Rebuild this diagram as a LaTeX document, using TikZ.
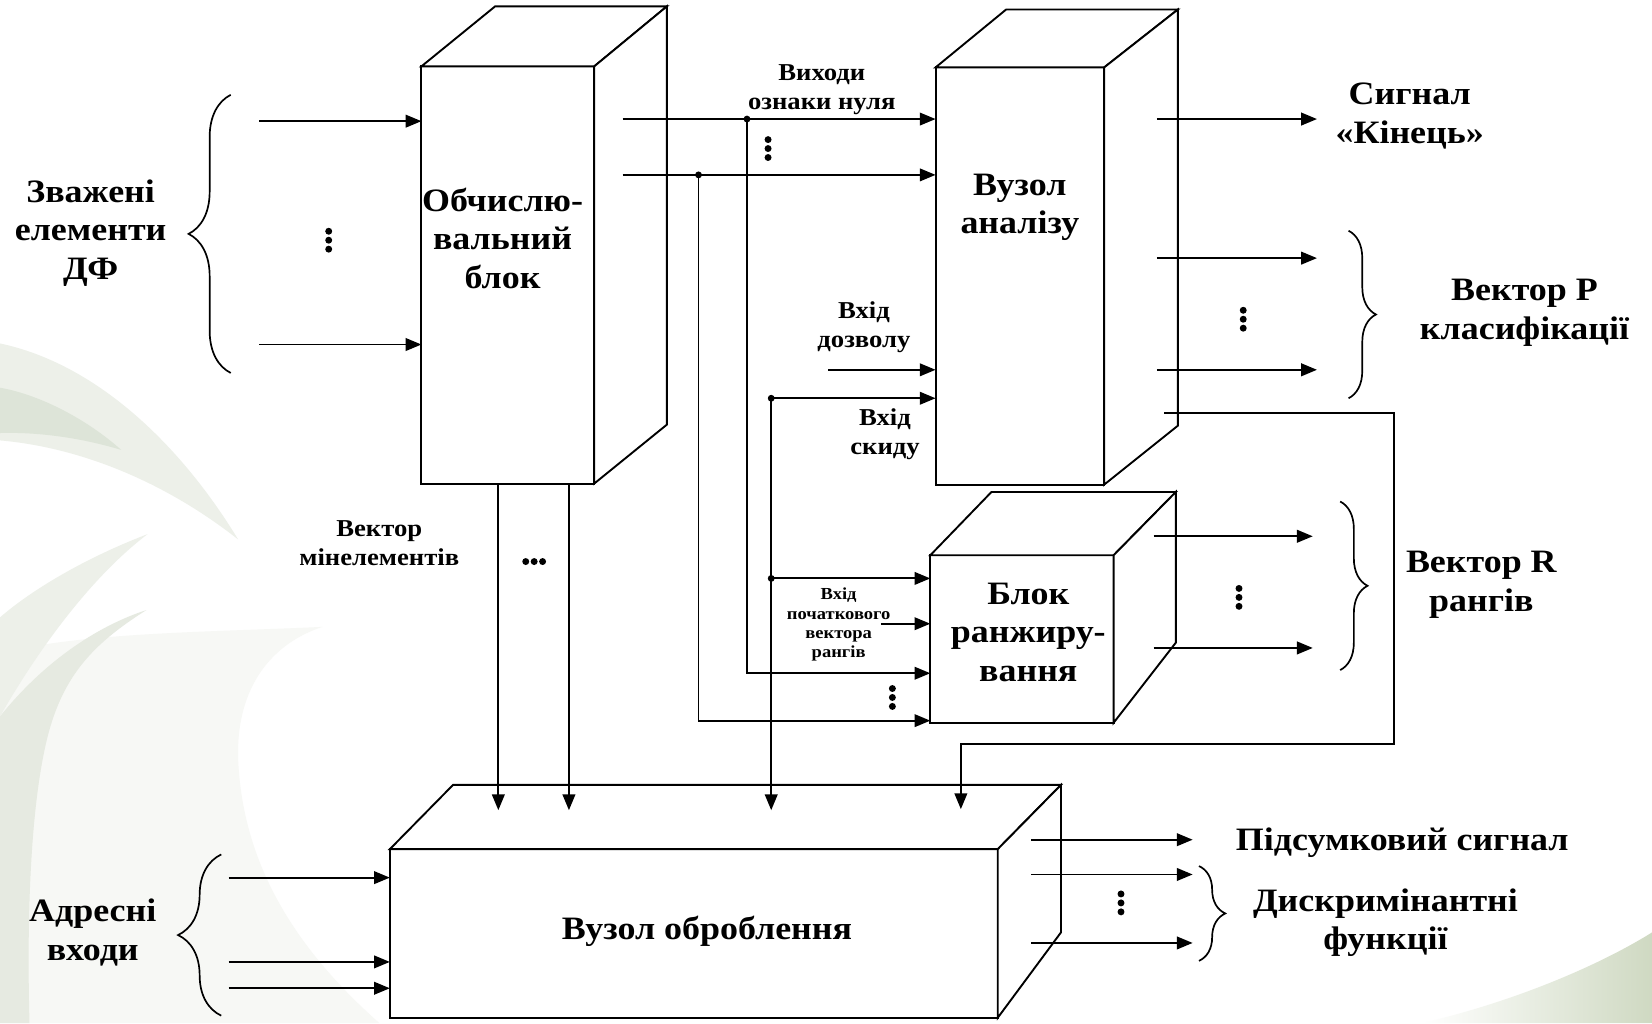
\documentclass[tikz,border=0pt]{standalone}
\usepackage{fontspec}
\setmainfont{Liberation Serif}[FakeStretch=1.1]
\usetikzlibrary{arrows.meta,decorations.pathreplacing}
\definecolor{bgA}{HTML}{EDF0E9}
\definecolor{bgB}{HTML}{DDE4D8}
\definecolor{bgC}{HTML}{F7F8F5}
\definecolor{bgD}{HTML}{E6EAE1}
\definecolor{bgE}{HTML}{CFD9C2}
\tikzset{
 ln/.style={line width=1.8pt},
 arr/.style={line width=1.8pt,-{Triangle[length=15pt,width=12pt]}},
 front/.style={draw,line width=1.8pt,fill=white,inner sep=0pt,outer sep=0pt,anchor=north west},
 face/.style={draw,line width=1.8pt,fill=white,line join=miter},
 bigtxt/.style={font=\fontsize{31}{36.5}\selectfont\bfseries,align=center,inner sep=0pt},
 midtxt/.style={font=\fontsize{23}{27.5}\selectfont\bfseries,align=center,inner sep=0pt},
 smalltxt/.style={font=\fontsize{16}{18.3}\selectfont\bfseries,align=center,inner sep=0pt},
 jdot/.style={fill,circle,inner sep=0pt,minimum size=6.5pt},
 brc/.style={line width=1.6pt,decorate,decoration={brace,amplitude=#1}},
}
\newcommand{\vdts}[2]{\fill (#1,#2-8.5) circle (3.3pt) (#1,#2) circle (3.3pt) (#1,#2+8.5) circle (3.3pt);}
\newcommand{\hdts}[2]{\fill (#1-8,#2) circle (3.3pt) (#1,#2) circle (3.3pt) (#1+8,#2) circle (3.3pt);}
\begin{document}
\begin{tikzpicture}[x=1pt,y=-1pt]
\fill[white] (0,0) rectangle (1568,971);
\useasboundingbox (0,0) rectangle (1568,971);
% background swooshes
\fill[bgC] (306,595) .. controls (200,600) and (80,600) .. (0,620) -- (0,971) -- (360,971) .. controls (280,900) and (230,820) .. (226,720) .. controls (224,650) and (260,610) .. (306,595) -- cycle;
\fill[bgA] (0,326) .. controls (90,345) and (170,420) .. (226,512) .. controls (160,460) and (80,425) .. (0,418) -- cycle;
\fill[bgB] (0,368) .. controls (40,375) and (85,400) .. (115,427) .. controls (75,415) and (35,410) .. (0,411) -- cycle;
\fill[bgA] (140,507) .. controls (80,530) and (30,560) .. (0,586) -- (0,680) .. controls (40,610) and (90,545) .. (140,507) -- cycle;
\fill[bgD] (139,579) .. controls (90,610) and (60,640) .. (45,700) .. controls (30,760) and (25,860) .. (28,971) -- (0,971) -- (0,680) .. controls (40,630) and (90,595) .. (139,579) -- cycle;
\shade[left color=white,right color=bgE] (1350,971) .. controls (1440,950) and (1520,915) .. (1568,885) -- (1568,971) -- cycle;

% ---- compute block
\node[front,minimum width=164pt,minimum height=396pt] (cb) at (400,63) {};
\draw[face] (cb.north west) -- (470,6) -- (633,6) -- (cb.north east) -- cycle;
\draw[face] (cb.north east) -- (633,6) -- (633,403) -- (cb.south east) -- cycle;
\node[bigtxt] (tcb) at (477,226) {Обчислю-\\вальний\\блок};

% ---- analysis block
\node[front,minimum width=160pt,minimum height=396pt] (an) at (888,64) {};
\draw[face] (an.north west) -- (955,9) -- (1118,9) -- (an.north east) -- cycle;
\draw[face] (an.north east) -- (1118,9) -- (1118,404) -- (an.south east) -- cycle;
\node[bigtxt] (tan) at (968,197) {Вузол\\аналізу};

% ---- ranking block
\node[front,minimum width=174pt,minimum height=159pt] (rk) at (883,527) {};
\draw[face] (rk.north west) -- (941,467) -- (1116,467) -- (rk.north east) -- cycle;
\draw[face] (rk.north east) -- (1116,467) -- (1116,610) -- (rk.south east) -- cycle;
\node[bigtxt] (trk) at (976,600) {Блок\\ранжиру-\\вання};

% ---- processing block
\node[front,minimum width=577pt,minimum height=160pt] (pr) at (370,806) {};
\draw[face] (pr.north west) -- (430,745) -- (1007,745) -- (pr.north east) -- cycle;
\draw[face] (pr.north east) -- (1007,745) -- (1007,885) -- (pr.south east) -- cycle;
\node[bigtxt] (tpr) at (671,884) {Вузол оброблення};

% ---- inputs of compute block
\draw[arr] (246,115) -- (246,115 -| cb.west);
\draw[arr] (246,327) -- (246,327 -| cb.west);
\vdts{312}{228}
\draw[brc=40] (219,354) -- (219,90);
\node[bigtxt] (tz) at (86,221) {Зважені\\елементи\\ДФ};

% ---- compute -> analysis
\node[jdot] (j1) at (709,113) {};
\node[jdot] (j2) at (663,166) {};
\draw[arr] (591,113) -- (591,113 -| an.west);
\draw[arr] (591,166) -- (591,166 -| an.west);
\vdts{729}{141}
\node[midtxt] (tvy) at (780,85) {Виходи\\ознаки нуля};
\draw[arr] (j1.center) |- (rk.west |- 0,639);
\draw[arr] (j2.center) |- (rk.west |- 0,684);

% ---- enable / reset
\draw[arr] (786,351) -- (786,351 -| an.west);
\node[midtxt] (tdz) at (820,311) {Вхід\\дозволу};
\node[jdot] (j3) at (732,378) {};
\node[jdot] (j4) at (732,549) {};
\draw[arr] (j3.center) -- (an.west |- j3);
\draw[arr] (j3.center) -- (732,769);
\node[midtxt] (tsk) at (840,412) {Вхід\\скиду};
\draw[arr] (j4.center) -- (rk.west |- j4);
\draw[arr] (836,592) -- (836,592 -| rk.west);
\node[smalltxt] (tpv) at (796,593) {Вхід\\початкового\\вектора\\рангів};
\vdts{847}{662}

% ---- analysis outputs
\draw[arr] (1098,113) -- (1250,113);
\draw[arr] (1098,245) -- (1250,245);
\draw[arr] (1098,351) -- (1250,351);
\vdts{1180}{303}
\draw[brc=26] (1280,219) -- (1280,378);
\node[bigtxt] (tsig) at (1338,110) {Сигнал\\«Кінець»};
\node[bigtxt] (tvp) at (1447,297) {Вектор Р\\класифікації};

% ---- analysis -> processing
\draw[arr] (1105,392) -- (1323,392) -- (1323,706) -- (912,706) -- (912,768);

% ---- compute -> processing
\draw[arr] (473,459) -- (473,769);
\draw[arr] (540,459) -- (540,769);
\hdts{507}{533}
\node[midtxt] (tvm) at (360,516) {Вектор\\мінелементів};

% ---- ranking outputs
\draw[arr] (1095,509) -- (1246,509);
\draw[arr] (1095,615) -- (1246,615);
\vdts{1176}{567}
\draw[brc=26] (1272,476) -- (1272,636);
\node[bigtxt] (tvr) at (1406,555) {Вектор R\\рангів};

% ---- processing inputs
\draw[arr] (217,833) -- (217,833 -| pr.west);
\draw[arr] (217,913) -- (217,913 -| pr.west);
\draw[arr] (217,938) -- (217,938 -| pr.west);
\draw[brc=41] (210,964) -- (210,811);
\node[bigtxt] (tad) at (88,885) {Адресні\\входи};

% ---- processing outputs
\draw[arr] (979,797) -- (1132,797);
\draw[arr] (979,830) -- (1132,830);
\draw[arr] (979,895) -- (1132,895);
\vdts{1064}{857}
\draw[brc=25] (1138,822) -- (1138,912);
\node[bigtxt] (tps) at (1331,800) {Підсумковий сигнал};
\node[bigtxt] (tdf) at (1315,876) {Дискримінантні\\функції};
\end{tikzpicture}
\end{document}
